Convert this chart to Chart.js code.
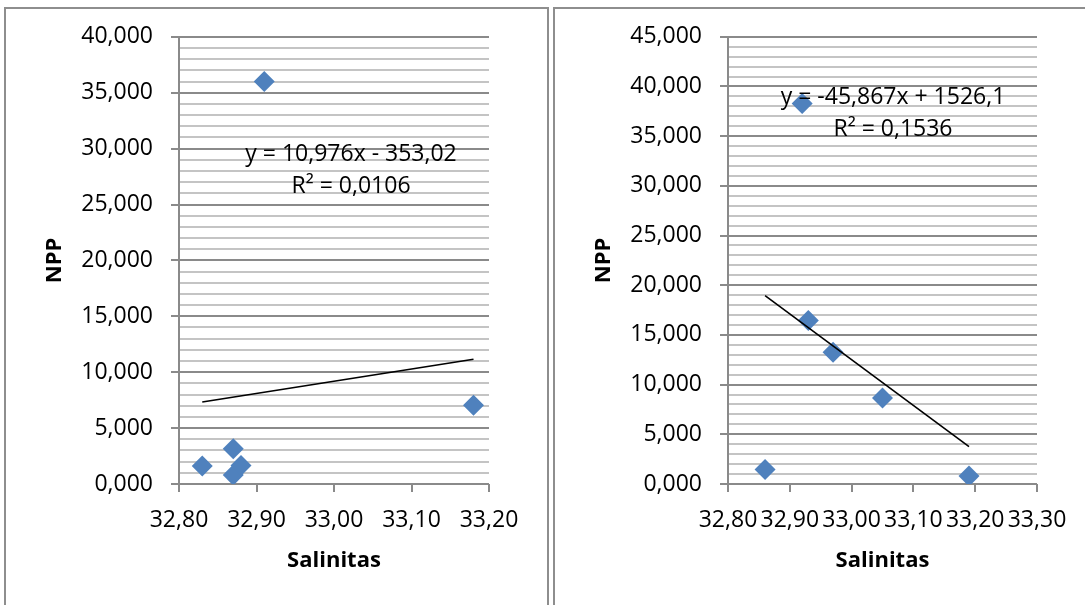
<!DOCTYPE html>
<html>
<head>
<meta charset="utf-8">
<script src="https://cdn.jsdelivr.net/npm/chart.js@4.4.1/dist/chart.umd.min.js"></script>
<style>
  body { margin: 0; background: #fff; width: 1085px; height: 605px; overflow: hidden; position: relative; }
  .frame { position: absolute; box-sizing: border-box; border: 2px solid #8e8e8e; border-bottom: none; }
  #frameLeft { left: 4px; top: 7px; width: 545px; height: 620px; }
  #frameRight { left: 553px; top: 7px; width: 600px; height: 620px; border-right: none; }
  .box { position: absolute; top: 5px; height: 600px; }
  #boxLeft { left: 8px; width: 538px; }
  #boxRight { left: 557px; width: 528px; }
</style>
</head>
<body>
<div class="frame" id="frameLeft"></div>
<div class="frame" id="frameRight"></div>
<div class="box" id="boxLeft"><canvas id="chartLeft"></canvas></div>
<div class="box" id="boxRight"><canvas id="chartRight"></canvas></div>
<script>
// Left chart data (NPP vs Salinitas)
const leftSalinitas = [32.83, 32.87, 32.87, 32.88, 32.91, 33.18];
const leftNPP = [1.60, 3.15, 0.80, 1.65, 36.00, 7.05];
const leftTrendX = [32.83, 33.18];
const leftTrendY = [7.33, 11.16];
const leftEquation = ['y = 10,976x - 353,02', 'R² = 0,0106'];
const leftXRange = [32.8, 33.2];
const leftYRange = [0, 40];

// Right chart data
const rightSalinitas = [32.86, 32.92, 32.93, 32.97, 33.05, 33.19];
const rightNPP = [1.45, 38.30, 16.45, 13.25, 8.65, 0.80];
const rightTrendX = [32.86, 33.19];
const rightTrendY = [18.96, 3.77];
const rightEquation = ['y = -45,867x + 1526,1', 'R² = 0,1536'];
const rightXRange = [32.8, 33.3];
const rightYRange = [0, 45];

Chart.defaults.font.family = "'Open Sans', sans-serif";
Chart.defaults.color = '#000';

const MAJOR = '#8a8a8a';
const MINOR = '#c4c4c4';

// draws the trendline equation text, anchored in data units
const eqPlugin = {
    id: 'eqLabel',
    afterDatasetsDraw(chart, args, opts) {
        const { ctx, scales } = chart;
        const px = scales.x.getPixelForValue(opts.x);
        const py = scales.y.getPixelForValue(opts.y);
        ctx.save();
        ctx.font = "23px 'Open Sans', sans-serif";
        ctx.fillStyle = '#000';
        ctx.textAlign = 'center';
        ctx.textBaseline = 'middle';
        opts.lines.forEach((t, i) => ctx.fillText(t, px, py + i * 32));
        ctx.restore();
    }
};

function toPoints(xs, ys) {
    return xs.map((x, i) => ({ x: x, y: ys[i] }));
}

function makeChart(id, xs, ys, tx, ty, xRange, yRange, eq, eqAt, padRight) {
    return new Chart(document.getElementById(id), {
        type: 'scatter',
        data: {
            datasets: [{
                type: 'line',
                data: toPoints(tx, ty),
                borderColor: '#000',
                borderWidth: 1.6,
                pointRadius: 0,
                showLine: true,
                order: 0
            }, {
                data: toPoints(xs, ys),
                backgroundColor: '#4F81BD',
                borderColor: '#4F81BD',
                borderWidth: 0,
                pointStyle: 'rectRot',
                pointRadius: 10.5,
                order: 1
            }]
        },
        options: {
            responsive: true,
            maintainAspectRatio: false,
            animation: false,
            // top edge comes from the y tick label half height + tick padding
            layout: { padding: { left: 0, right: padRight, top: 0, bottom: 0 } },
            plugins: {
                legend: { display: false },
                tooltip: { enabled: false },
                eqLabel: { lines: eq, x: eqAt[0], y: eqAt[1] }
            },
            scales: {
                x: {
                    type: 'linear',
                    min: xRange[0],
                    max: xRange[1],
                    afterFit: (s) => { s.height = 121; },
                    ticks: {
                        stepSize: 0.1,
                        autoSkip: false,
                        maxRotation: 0,
                        minRotation: 0,
                        padding: 15,
                        font: { size: 23 },
                        callback: (v) => v.toFixed(2).replace('.', ',')
                    },
                    grid: {
                        drawOnChartArea: false,
                        drawTicks: true,
                        tickLength: 8,
                        color: MAJOR,
                        lineWidth: 2
                    },
                    border: { display: false },
                    title: {
                        display: true,
                        text: 'Salinitas',
                        font: { size: 22, weight: 'bold' },
                        padding: { top: 0, bottom: 31 }
                    }
                },
                y: {
                    min: yRange[0],
                    max: yRange[1],
                    afterFit: (s) => { s.width = 171; },
                    ticks: {
                        stepSize: 1,
                        autoSkip: false,
                        padding: 18,
                        font: { size: 23 },
                        callback: (v) => v % 5 === 0 ? v.toFixed(3).replace('.', ',') : ''
                    },
                    grid: {
                        tickLength: 8,
                        color: (c) => (c.tick && c.tick.value % 5 === 0) ? MAJOR : MINOR,
                        tickColor: (c) => (c.tick && c.tick.value % 5 === 0) ? MAJOR : 'rgba(0,0,0,0)',
                        lineWidth: 2
                    },
                    border: { display: true, color: MAJOR, width: 2 },
                    title: {
                        display: true,
                        text: 'NPP',
                        font: { size: 22, weight: 'bold' },
                        padding: { top: 34, bottom: 0 }
                    }
                }
            }
        },
        plugins: [eqPlugin]
    });
}

makeChart('chartLeft', leftSalinitas, leftNPP, leftTrendX, leftTrendY,
    leftXRange, leftYRange, leftEquation, [33.022, 29.5], 57);
makeChart('chartRight', rightSalinitas, rightNPP, rightTrendX, rightTrendY,
    rightXRange, rightYRange, rightEquation, [33.067, 38.86], 48);
</script>
</body>
</html>
